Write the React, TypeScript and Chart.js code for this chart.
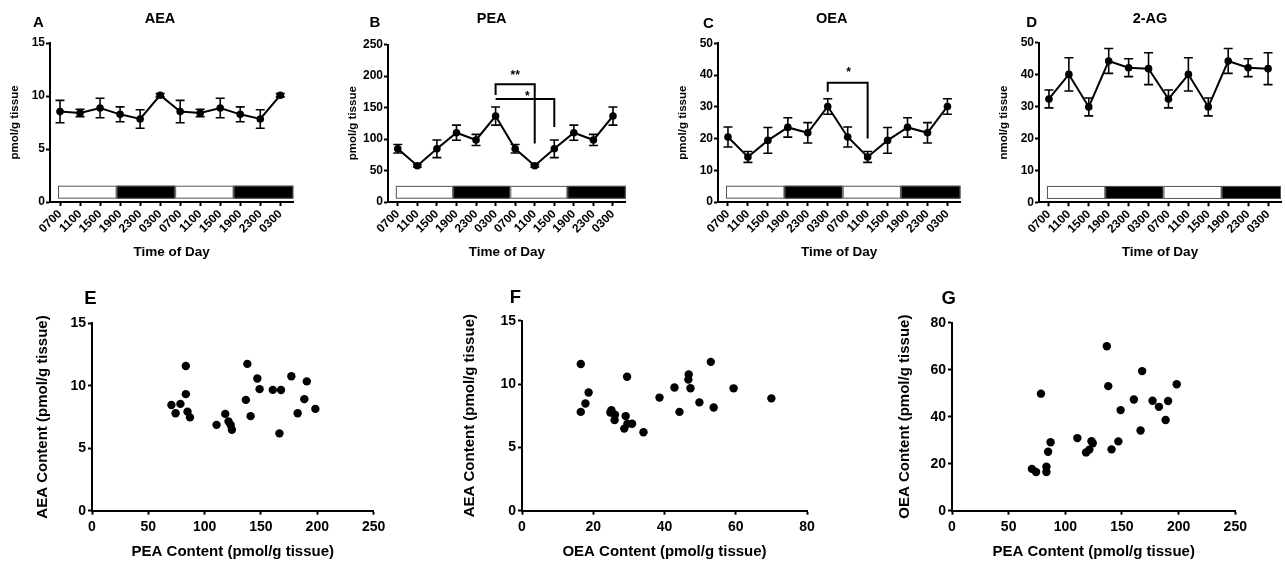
import React, { useEffect, useRef } from "react";
import { Chart, registerables } from "chart.js";

Chart.register(...registerables);

const FONT = '"Liberation Sans", Arial, Helvetica, sans-serif';

// ---------- Top row: content across time of day (mean ± SEM) ----------
const timeLabels = ["0700", "1100", "1500", "1900", "2300", "0300", "0700", "1100", "1500", "1900", "2300", "0300"];

const aeaMean = [8.53, 8.4, 8.87, 8.27, 7.83, 10.07, 8.53, 8.4, 8.87, 8.27, 7.83, 10.07];
const aeaSem = [1.06, 0.35, 0.92, 0.7, 0.87, 0.15, 1.06, 0.35, 0.92, 0.7, 0.87, 0.15];

const peaMean = [84.5, 57.5, 84.5, 110, 98.5, 136.5, 84.5, 57.5, 84.5, 110, 98.5, 136.5];
const peaSem = [6.7, 2, 14, 12, 8.8, 14.4, 6.7, 2, 14, 12, 8.8, 14.4];

const oeaMean = [20.5, 14.2, 19.4, 23.5, 21.8, 30.1, 20.5, 14.2, 19.4, 23.5, 21.8, 30.1];
const oeaSem = [3.15, 1.7, 4.05, 3.05, 3.2, 2.45, 3.15, 1.7, 4.05, 3.05, 3.2, 2.45];

const agMean = [32.4, 40.1, 29.9, 44.3, 42.2, 41.9, 32.4, 40.1, 29.9, 44.3, 42.2, 41.9];
const agSem = [2.8, 5.2, 2.8, 3.9, 2.8, 5.0, 2.8, 5.2, 2.8, 3.9, 2.8, 5.0];

// light / dark phase bar along the time axis (edges in time-index units)
const phaseEdges = [-0.1, 2.83, 5.75, 8.67, 11.65];
const phases = ["light", "dark", "light", "dark"];

// significance brackets (time index, values in axis units)
const peaBrackets = [
  { from: 5, to: 7, top: 187, leftEnd: 170, rightEnd: 93, label: "**", labelX: 6, labelY: 201 },
  { from: 5, to: 8, top: 163.5, leftEnd: 163.5, rightEnd: 119, label: "*", labelX: 6.62, labelY: 167.5 },
];
const oeaBrackets = [
  { from: 5, to: 7, top: 37.6, leftEnd: 34.7, rightEnd: 20, label: "*", labelX: 6.05, labelY: 40.7 },
];

// ---------- Bottom row: per-sample contents ----------
const peaContent = [70.5, 74.2, 78.5, 83.3, 83.3, 84.8, 87, 110.6, 118.3, 121.2, 123.1, 124.2, 136.6, 137.9, 140.8, 146.8, 148.8, 160.5, 166.4, 167.8, 177, 182.6, 188.5, 190.7, 198.3];
const aeaContent = [8.46, 7.8, 8.55, 11.58, 9.33, 7.93, 7.47, 6.87, 7.75, 7.15, 6.86, 6.48, 8.87, 11.75, 7.57, 10.58, 9.73, 9.67, 6.19, 9.66, 10.76, 7.8, 8.93, 10.35, 8.15];
const oeaContent = [17.8, 16.5, 49.8, 16.5, 18.7, 25.1, 29.1, 30.9, 24.8, 26, 29.6, 28.7, 70, 53, 26.1, 29.5, 42.8, 47.3, 34.1, 59.4, 46.8, 44.2, 38.6, 46.7, 53.8];

type Geo = {
  left: number; top: number; width: number; height: number;
  plotLeft: number; plotTop: number; plotRight: number; plotBottom: number;
  yTitleX: number;
};

const font = (size: number) => ({ family: FONT, size, weight: "bold" as const });

function errorBarPlugin(sem: number[]) {
  return {
    id: "errorBars",
    afterDatasetsDraw(chart: any) {
      const { ctx, scales } = chart;
      const xs = scales.x, ys = scales.y;
      const data = chart.data.datasets[0].data;
      ctx.save();
      ctx.strokeStyle = "#000";
      ctx.lineWidth = 1.6;
      data.forEach((p: any, i: number) => {
        const x = xs.getPixelForValue(p.x);
        const yt = ys.getPixelForValue(p.y + sem[i]);
        const yb = ys.getPixelForValue(p.y - sem[i]);
        ctx.beginPath();
        ctx.moveTo(x, yt); ctx.lineTo(x, yb);
        ctx.moveTo(x - 4.5, yt); ctx.lineTo(x + 4.5, yt);
        ctx.moveTo(x - 4.5, yb); ctx.lineTo(x + 4.5, yb);
        ctx.stroke();
      });
      ctx.restore();
    },
  };
}

const phasePlugin = {
  id: "phaseBar",
  afterDatasetsDraw(chart: any) {
    const { ctx, scales } = chart;
    const xs = scales.x, ys = scales.y;
    const range = ys.max - ys.min;
    const top = ys.getPixelForValue(ys.min + 0.1025 * range);
    const bot = ys.getPixelForValue(ys.min + 0.021 * range);
    ctx.save();
    phases.forEach((ph, i) => {
      const x0 = xs.getPixelForValue(phaseEdges[i]);
      const x1 = xs.getPixelForValue(phaseEdges[i + 1]);
      ctx.fillStyle = ph === "dark" ? "#000" : "#fff";
      ctx.fillRect(x0, top, x1 - x0, bot - top);
      ctx.strokeStyle = "#555";
      ctx.lineWidth = 1;
      ctx.strokeRect(x0 + 0.5, top + 0.5, x1 - x0 - 1, bot - top - 1);
    });
    ctx.restore();
  },
};

function bracketPlugin(brackets: any[]) {
  return {
    id: "brackets",
    afterDatasetsDraw(chart: any) {
      const { ctx, scales } = chart;
      const xs = scales.x, ys = scales.y;
      ctx.save();
      ctx.strokeStyle = "#000";
      ctx.fillStyle = "#000";
      ctx.lineWidth = 2;
      brackets.forEach((b) => {
        const x0 = xs.getPixelForValue(b.from);
        const x1 = xs.getPixelForValue(b.to);
        const yt = ys.getPixelForValue(b.top);
        ctx.beginPath();
        ctx.moveTo(x0, ys.getPixelForValue(b.leftEnd));
        ctx.lineTo(x0, yt);
        ctx.lineTo(x1, yt);
        ctx.lineTo(x1, ys.getPixelForValue(b.rightEnd));
        ctx.stroke();
        ctx.font = `bold 12px ${FONT}`;
        ctx.textAlign = "center";
        ctx.textBaseline = "middle";
        ctx.fillText(b.label, xs.getPixelForValue(b.labelX), ys.getPixelForValue(b.labelY));
      });
      ctx.restore();
    },
  };
}

function axisCommon() {
  return {
    grid: { drawOnChartArea: false, drawTicks: true, tickLength: 4, tickWidth: 2, tickColor: "#000" },
    border: { color: "#000", width: 2 },
  };
}

function timeConfig(mean: number[], sem: number[], yMax: number, yStep: number, yTitle: string, brackets: any[], g: Geo): any {
  const yW = g.plotLeft - g.left;
  const xH = g.top + g.height - g.plotBottom;
  const yTitleFont = 11.5;
  return {
    type: "line",
    data: {
      datasets: [
        {
          data: mean.map((v, i) => ({ x: i, y: v })),
          borderColor: "#000",
          borderWidth: 2,
          pointRadius: 3.8,
          pointBackgroundColor: "#000",
          pointBorderColor: "#000",
          pointBorderWidth: 0,
          tension: 0,
          fill: false,
        },
      ],
    },
    options: {
      responsive: false,
      animation: false,
      layout: { padding: { left: 0, top: g.plotTop - g.top, right: g.left + g.width - g.plotRight, bottom: 0 } },
      plugins: { legend: { display: false }, tooltip: { enabled: false }, title: { display: false } },
      scales: {
        x: {
          type: "linear",
          min: -0.5,
          max: 11.65,
          afterBuildTicks: (s: any) => { s.ticks = timeLabels.map((_, i) => ({ value: i })); },
          afterFit: (s: any) => { s.height = xH; },
          ticks: {
            autoSkip: false, minRotation: 45, maxRotation: 45, padding: 1, color: "#000", font: font(12),
            callback: (_v: any, i: number) => timeLabels[i],
          },
          ...axisCommon(),
          title: { display: true, text: "Time of Day", color: "#000", font: font(13.5), padding: { top: 0, bottom: 9.9 } },
        },
        y: {
          min: 0,
          max: yMax,
          afterFit: (s: any) => { s.width = yW; },
          ticks: { stepSize: yStep, padding: 1, color: "#000", font: font(12) },
          ...axisCommon(),
          title: {
            display: true, text: yTitle, color: "#000", font: font(yTitleFont),
            padding: { top: g.yTitleX - g.left - (yTitleFont * 1.2) / 2, bottom: 0 },
          },
        },
      },
    },
    plugins: [phasePlugin, errorBarPlugin(sem), bracketPlugin(brackets)],
  };
}

function scatterConfig(xs: number[], ys: number[], xMax: number, xStep: number, yMax: number, yStep: number, xTitle: string, yTitle: string, g: Geo): any {
  const yW = g.plotLeft - g.left;
  const xH = g.top + g.height - g.plotBottom;
  const tf = 15;
  return {
    type: "scatter",
    data: {
      datasets: [
        {
          data: xs.map((v, i) => ({ x: v, y: ys[i] })),
          pointRadius: 4.2,
          pointBackgroundColor: "#000",
          pointBorderWidth: 0,
          showLine: false,
        },
      ],
    },
    options: {
      responsive: false,
      animation: false,
      layout: { padding: { left: 0, top: g.plotTop - g.top, right: g.left + g.width - g.plotRight, bottom: 0 } },
      plugins: { legend: { display: false }, tooltip: { enabled: false } },
      scales: {
        x: {
          type: "linear",
          min: 0,
          max: xMax,
          afterFit: (s: any) => { s.height = xH; },
          ticks: { stepSize: xStep, padding: 4, color: "#000", font: font(14), maxRotation: 0 },
          ...axisCommon(),
          title: { display: true, text: xTitle, color: "#000", font: font(tf), padding: { top: 0, bottom: 3.3 } },
        },
        y: {
          min: 0,
          max: yMax,
          afterFit: (s: any) => { s.width = yW; },
          ticks: { stepSize: yStep, padding: 2, color: "#000", font: font(14) },
          ...axisCommon(),
          title: {
            display: true, text: yTitle, color: "#000", font: font(tf),
            padding: { top: g.yTitleX - g.left - (tf * 1.2) / 2, bottom: 0 },
          },
        },
      },
    },
  };
}

function ChartBox({ geo, config }: { geo: Geo; config: () => any }) {
  const ref = useRef<HTMLCanvasElement>(null);
  useEffect(() => {
    const chart = new Chart(ref.current as HTMLCanvasElement, config());
    return () => chart.destroy();
  }, []);
  return (
    <canvas
      ref={ref}
      width={Math.round(geo.width)}
      height={Math.round(geo.height)}
      style={{ position: "absolute", left: geo.left, top: geo.top, width: Math.round(geo.width), height: Math.round(geo.height) }}
    />
  );
}

function Label({ text, x, y, size }: { text: string; x: number; y: number; size: number }) {
  return (
    <div
      style={{
        position: "absolute", left: x, top: y, transform: "translate(-50%, -50%)",
        fontFamily: FONT, fontWeight: "bold", fontSize: size, lineHeight: 1, color: "#000", whiteSpace: "nowrap",
      }}
    >
      {text}
    </div>
  );
}

const geoA: Geo = { left: 0, top: 0, width: 306, height: 270, plotLeft: 50, plotTop: 43, plotRight: 293.3, plotBottom: 202, yTitleX: 14.5 };
const geoB: Geo = { left: 338.3, top: 0, width: 300, height: 270, plotLeft: 388.3, plotTop: 44.5, plotRight: 626, plotBottom: 202, yTitleX: 353 };
const geoC: Geo = { left: 668.3, top: 0, width: 305, height: 270, plotLeft: 718.3, plotTop: 43.3, plotRight: 960.7, plotBottom: 202, yTitleX: 683 };
const geoD: Geo = { left: 989, top: 0, width: 296, height: 270, plotLeft: 1039, plotTop: 42.8, plotRight: 1282, plotBottom: 202.3, yTitleX: 1003.5 };

const geoE: Geo = { left: 26.7, top: 290, width: 363, height: 274, plotLeft: 91.7, plotTop: 323.3, plotRight: 373.3, plotBottom: 510.7, yTitleX: 43 };
const geoF: Geo = { left: 456.7, top: 290, width: 365, height: 274, plotLeft: 521.7, plotTop: 320.7, plotRight: 806.7, plotBottom: 510.7, yTitleX: 470 };
const geoG: Geo = { left: 886.7, top: 290, width: 365, height: 274, plotLeft: 951.7, plotTop: 322.7, plotRight: 1235, plotBottom: 510.7, yTitleX: 905 };

export default function App() {
  return (
    <div style={{ position: "absolute", left: 0, top: 0, width: 1285, height: 564, background: "#fff", overflow: "hidden" }}>
      <ChartBox geo={geoA} config={() => timeConfig(aeaMean, aeaSem, 15, 5, "pmol/g tissue", [], geoA)} />
      <ChartBox geo={geoB} config={() => timeConfig(peaMean, peaSem, 250, 50, "pmol/g tissue", peaBrackets, geoB)} />
      <ChartBox geo={geoC} config={() => timeConfig(oeaMean, oeaSem, 50, 10, "pmol/g tissue", oeaBrackets, geoC)} />
      <ChartBox geo={geoD} config={() => timeConfig(agMean, agSem, 50, 10, "nmol/g tissue", [], geoD)} />
      <ChartBox geo={geoE} config={() => scatterConfig(peaContent, aeaContent, 250, 50, 15, 5, "PEA Content (pmol/g tissue)", "AEA Content (pmol/g tissue)", geoE)} />
      <ChartBox geo={geoF} config={() => scatterConfig(oeaContent, aeaContent, 80, 20, 15, 5, "OEA Content (pmol/g tissue)", "AEA Content (pmol/g tissue)", geoF)} />
      <ChartBox geo={geoG} config={() => scatterConfig(peaContent, oeaContent, 250, 50, 80, 20, "PEA Content (pmol/g tissue)", "OEA Content (pmol/g tissue)", geoG)} />

      <Label text="A" x={38.5} y={20.5} size={15} />
      <Label text="AEA" x={160} y={17.5} size={14.5} />
      <Label text="B" x={375} y={21} size={15} />
      <Label text="PEA" x={491.7} y={17.5} size={14.5} />
      <Label text="C" x={708.3} y={21.5} size={15} />
      <Label text="OEA" x={831.7} y={17.5} size={14.5} />
      <Label text="D" x={1031.7} y={20.5} size={15} />
      <Label text="2-AG" x={1150} y={17.5} size={14.5} />

      <Label text="E" x={90.3} y={298.3} size={18.5} />
      <Label text="F" x={515.3} y={297.3} size={18.5} />
      <Label text="G" x={948.7} y={298.3} size={18.5} />
    </div>
  );
}
